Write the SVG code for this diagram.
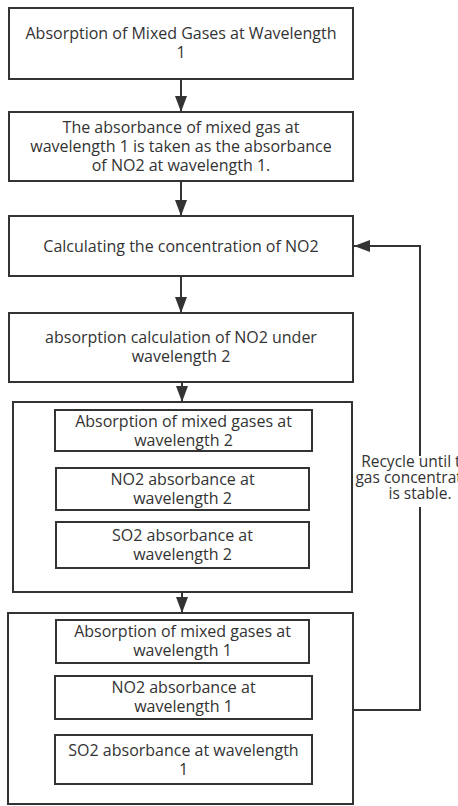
<svg xmlns="http://www.w3.org/2000/svg" width="458" height="806" viewBox="0 0 458 806">
<style>
.b{fill:#fff;stroke:#333;stroke-width:2}
.t{font-family:"Open Sans","Liberation Sans",sans-serif;font-size:16px;fill:#333;text-anchor:middle}
.l{font-family:"Open Sans","Liberation Sans",sans-serif;font-size:15.5px;fill:#333;text-anchor:middle}
.c{fill:none;stroke:#333;stroke-width:2}
</style>
<defs>
<marker id="ah" markerUnits="userSpaceOnUse" markerWidth="16" markerHeight="12" refX="16" refY="6" orient="auto">
<path d="M0,0 L16,6 L0,12 z" fill="#333"/>
</marker>
</defs>
<rect width="458" height="806" fill="#fff"/>
<g id="connectors">
<path class="c" d="M181,79 V112" marker-end="url(#ah)"/>
<path class="c" d="M181,181 V216" marker-end="url(#ah)"/>
<path class="c" d="M181,276 V313" marker-end="url(#ah)"/>
<path class="c" d="M182,382 V402" marker-end="url(#ah)"/>
<path class="c" d="M182,592 V613" marker-end="url(#ah)"/>
<path class="c" d="M353,710 H420 V246 H354" marker-end="url(#ah)"/>
<g id="loop-label">
<rect x="354" y="456" width="104" height="51" fill="#fff"/>
<text class="l" x="420" y="467">Recycle until the</text>
<text class="l" x="420" y="483">gas concentration</text>
<text class="l" x="420" y="499">is stable.</text>
</g>
</g>
<g id="n1">
<rect class="b" x="9" y="8" width="344" height="71"/>
<text class="t" x="181" y="39">Absorption of Mixed Gases at Wavelength</text>
<text class="t" x="181" y="58">1</text>
</g>
<g id="n2">
<rect class="b" x="9" y="112" width="344" height="69"/>
<text class="t" x="181" y="133">The absorbance of mixed gas at</text>
<text class="t" x="181" y="152">wavelength 1 is taken as the absorbance</text>
<text class="t" x="181" y="171">of NO2 at wavelength 1.</text>
</g>
<g id="n3">
<rect class="b" x="9" y="216" width="344" height="60"/>
<text class="t" x="181" y="252">Calculating the concentration of NO2</text>
</g>
<g id="n4">
<rect class="b" x="9" y="313" width="344" height="69"/>
<text class="t" x="181" y="343">absorption calculation of NO2 under</text>
<text class="t" x="181" y="362">wavelength 2</text>
</g>
<g id="n5">
<rect class="b" x="13" y="402" width="339" height="190"/>
<g id="n5a">
<rect class="b" x="55" y="410" width="257" height="41"/>
<text class="t" x="183.5" y="427">Absorption of mixed gases at</text>
<text class="t" x="183.5" y="446">wavelength 2</text>
</g>
<g id="n5b">
<rect class="b" x="56" y="468" width="253" height="42"/>
<text class="t" x="182.5" y="485">NO2 absorbance at</text>
<text class="t" x="182.5" y="504">wavelength 2</text>
</g>
<g id="n5c">
<rect class="b" x="56" y="522" width="253" height="46"/>
<text class="t" x="182.5" y="541">SO2 absorbance at</text>
<text class="t" x="182.5" y="560">wavelength 2</text>
</g>
</g>
<g id="n6">
<rect class="b" x="8" y="613" width="345" height="191"/>
<g id="n6a">
<rect class="b" x="56" y="620" width="253" height="43"/>
<text class="t" x="182.5" y="637">Absorption of mixed gases at</text>
<text class="t" x="182.5" y="656">wavelength 1</text>
</g>
<g id="n6b">
<rect class="b" x="55" y="676" width="257" height="43"/>
<text class="t" x="183.5" y="693">NO2 absorbance at</text>
<text class="t" x="183.5" y="712">wavelength 1</text>
</g>
<g id="n6c">
<rect class="b" x="55" y="735" width="257" height="49"/>
<text class="t" x="183.5" y="756">SO2 absorbance at wavelength</text>
<text class="t" x="183.5" y="775">1</text>
</g>
</g>
</svg>
